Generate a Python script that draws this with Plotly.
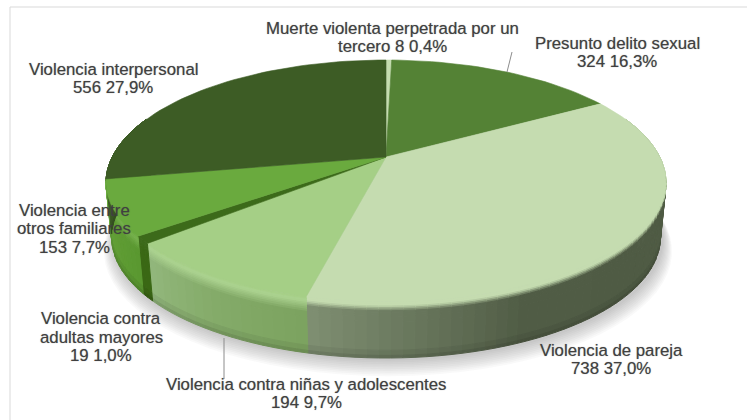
import math
import plotly.graph_objects as go

# Data
categories = ["Muerte violenta perpetrada por un tercero", "Presunto delito sexual", "Violencia de pareja",
              "Violencia contra niñas y adolescentes", "Violencia contra adultas mayores",
              "Violencia entre otros familiares", "Violencia interpersonal"]
values = [8, 324, 738, 194, 19, 153, 556]
percents = ["0,4%", "16,3%", "37,0%", "9,7%", "1,0%", "7,7%", "27,9%"]

top_colors = ["#c5dcb0", "#548235", "#c5dcb0", "#a5cf86", "#3c6a1a", "#6aaa3e", "#3d5c25"]
side_ramps = [
    [(0, "#8a9a7c"), (1, "#8a9a7c")],
    [(0, "#3f5f25"), (1, "#3f5f25")],
    [(0, "#4d5942"), (0.72, "#505c45"), (1, "#7f8f72")],
    [(0, "#7ba35f"), (0.5, "#84ab69"), (1, "#92b77c")],
    [(0, "#3a6814"), (1, "#3a6814")],
    [(0, "#5a9830"), (0.7, "#629f36"), (1, "#6cb040")],
    [(0, "#3d5c25"), (1, "#3d5c25")],
]
fade_ends = [0.2, 0.2, 0.1, 0.22, 0.12, 0.2, 0.2]

label_lines = [
    (["Muerte violenta perpetrada por un", "tercero 8 0,4%"], 392, [28, 46]),
    (["Presunto delito sexual", "324 16,3%"], 617, [43.5, 61.5]),
    (["Violencia de pareja", "738 37,0%"], 611, [350.5, 368.5]),
    (["Violencia contra niñas y adolescentes", "194 9,7%"], 306, [384, 402]),
    (["Violencia contra", "adultas mayores", "19 1,0%"], 101, [318, 337, 355]),
    (["Violencia entre", "otros familiares", "153 7,7%"], 74, [210, 228, 247]),
    (["Violencia interpersonal", "556 27,9%"], 113, [69, 87]),
]
leaders = [((512, 52), (507, 72)), ((224, 338), (224, 379))]

# Geometry of the tilted disc: a circle under perspective
CX, CY = 386, 157
A, B, K = 117.5, 273.7, 0.2114
DEPTH, SHRINK = 55, 0.02


def project(theta, t=0.0, grow=1.0, dx=0.0, dy=0.0):
    u, v = math.sin(theta), math.cos(theta)
    w = 1 + K * v
    s = (1 - SHRINK * t) * grow
    return CX + dx + s * B * u / w, CY + dy - s * A * v / w + DEPTH * t


def taper(theta):
    """0 towards the silhouette and the back of the disc, 1 along its front."""
    d = math.degrees(theta)
    rise = (d - 100) / 30
    fall = (262 - d) / 30
    return max(0.0, min(1.0, rise, fall))


def inset(theta, t):
    return t * taper(theta) if t < 0 else t


def hex2rgb(c):
    return tuple(int(c[i:i + 2], 16) for i in (1, 3, 5))


def mix(a, b, f):
    f = max(0.0, min(1.0, f))
    ra, rb = hex2rgb(a), hex2rgb(b)
    return "#%02x%02x%02x" % tuple(round(x + (y - x) * f) for x, y in zip(ra, rb))


def ramp(stops, f):
    for (f0, c0), (f1, c1) in zip(stops, stops[1:]):
        if f <= f1:
            return mix(c0, c1, (f - f0) / max(f1 - f0, 1e-6))
    return stops[-1][1]


total = sum(values)
edges = [0.0]
for val in values:
    edges.append(edges[-1] + val / total * 2 * math.pi)

fig = go.Figure()


def poly(xs, ys, fill, line=None, width=0.0):
    fig.add_trace(go.Scatter(x=xs, y=ys, mode="lines", fill="toself", fillcolor=fill,
                             line=dict(color=line or "rgba(0,0,0,0)", width=width),
                             hoverinfo="skip", showlegend=False))


# soft shadow under the disc
circle = [i / 90 * 2 * math.pi for i in range(91)]
for n in range(1, 11):
    pts = [project(a, 1.0, 1 + 0.0035 * n, 2.0, 1 + 1.2 * n) for a in circle]
    poly([p[0] for p in pts], [p[1] for p in pts], "rgba(90,90,90,0.04)")

# rim: strips across the depth, shaded along the angle
strips = [-0.08, -0.04, 0.0, 0.03, 0.06, 0.09, 0.12, 0.16, 0.2, 0.3, 0.85, 0.95, 1.0]
for i in range(len(values)):
    a0, a1 = edges[i], edges[i + 1]
    lo, hi = max(a0, math.radians(70)), min(a1, math.radians(290))
    if hi <= lo:
        continue
    steps = max(2, int(math.degrees(hi - lo) / 2))
    top = top_colors[i]
    for j in range(steps):
        b0 = lo + (hi - lo) * j / steps
        b1 = lo + (hi - lo) * (j + 1) / steps
        side = ramp(side_ramps[i], ((b0 + b1) / 2 - a0) / (a1 - a0))
        light = mix(top, "#ffffff", 0.08) if i in (3, 5) else top
        for t0, t1 in zip(strips, strips[1:]):
            tm = (t0 + t1) / 2
            if tm < 0:
                col = mix(top, light, (tm + 0.08) / 0.08)
            elif tm < 0.85:
                col = mix(light, side, tm / fade_ends[i])
            else:
                col = mix(side, "#000000", 0.06 if tm < 0.95 else 0.14)
            pa, pb = project(b0, inset(b0, t0)), project(b1, inset(b1, t0))
            pc, pd = project(b1, inset(b1, t1)), project(b0, inset(b0, t1))
            xs = [pa[0], pb[0], pc[0], pd[0], pa[0]]
            ys = [pa[1], pb[1], pc[1], pd[1], pa[1]]
            poly(xs, ys, col, col, 1.0)

# Top face, stopping short of the front edge so the blended strip stays on show
for i in range(len(values)):
    a0, a1 = edges[i], edges[i + 1]
    steps = max(2, int(math.degrees(a1 - a0) / 2))
    arc = [a0 + (a1 - a0) * j / steps for j in range(steps + 1)]
    pts = [project(a, inset(a, -0.08)) for a in arc]
    xs = [CX] + [p[0] for p in pts] + [CX]
    ys = [CY] + [p[1] for p in pts] + [CY]
    poly(xs, ys, top_colors[i], top_colors[i], 0.6)

shapes = [
    dict(type="line", x0=10, y0=7, x1=747, y1=7, line=dict(color="#d9d9d9", width=1)),
    dict(type="line", x0=10, y0=7, x1=10, y1=420, line=dict(color="#d9d9d9", width=1)),
]
for (x0, y0), (x1, y1) in leaders:
    shapes.append(dict(type="line", x0=x0, y0=y0, x1=x1, y1=y1, line=dict(color="#8c8c8c", width=1)))

annotations = [dict(x=11, y=4, text="<b>2017</b>", showarrow=False, xanchor="left", yanchor="bottom",
                    font=dict(family="Liberation Sans", size=21, color="#262626"))]
for lines, x, ys in label_lines:
    for line, y in zip(lines, ys):
        annotations.append(dict(x=x, y=y, text=line, showarrow=False, xanchor="center", yanchor="middle",
                                font=dict(family="Liberation Sans", size=16.8, color="#404040",
                                          shadow="0px 0px 1px rgba(70,70,70,0.55)")))

fig.update_layout(
    width=747, height=420, margin=dict(l=0, r=0, t=0, b=0),
    paper_bgcolor="white", plot_bgcolor="white", showlegend=False,
    xaxis=dict(range=[0, 747], visible=False, fixedrange=True),
    yaxis=dict(range=[420, 0], visible=False, fixedrange=True),
    shapes=shapes, annotations=annotations,
)
fig.write_html("out.html", config={"displayModeBar": False},
               post_script="document.documentElement.style.overflow='hidden';document.body.style.margin='0';")
